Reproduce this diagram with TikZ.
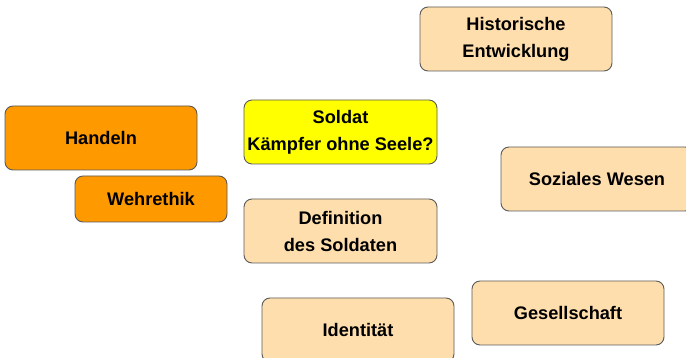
\documentclass[tikz,border=0pt]{standalone}
\usepackage{fontspec}
\setmainfont{Liberation Sans}
\definecolor{boxorange}{HTML}{FF9900}
\definecolor{boxyellow}{HTML}{FFFF00}
\definecolor{boxpeach}{HTML}{FFDEAD}
\definecolor{boxline}{HTML}{5A5A5A}
\tikzset{
  card/.style={draw=boxline, line width=0.9pt, rounded corners=8pt, align=center,
    inner sep=0pt, minimum width=192pt, minimum height=64pt,
    font=\fontsize{18.2}{27}\selectfont\bfseries, text=black},
  orangecard/.style={card, fill=boxorange},
  yellowcard/.style={card, fill=boxyellow},
  peachcard/.style={card, fill=boxpeach}
}
\begin{document}
\begin{tikzpicture}[x=1pt,y=-1pt]
\useasboundingbox (0,0) rectangle (686,358);
\clip (0,0) rectangle (686,358);
\node[orangecard] (handeln) at (101,138) {Handeln};
\node[orangecard, minimum width=152pt, minimum height=46pt] (wehr) at (151,199) {Wehrethik};
\node[yellowcard, minimum width=193pt] (soldat) at (340.5,132) {Soldat\\Kämpfer ohne Seele?};
\node[peachcard, minimum width=193pt] (def) at (340.5,231) {Definition\\des Soldaten};
\node[peachcard] (hist) at (516,39) {Historische\\Entwicklung};
\node[peachcard] (sozial) at (597,179) {Soziales Wesen};
\node[peachcard] (ges) at (568,313) {Gesellschaft};
\node[peachcard] (ident) at (358,330) {Identität};
\end{tikzpicture}
\end{document}
